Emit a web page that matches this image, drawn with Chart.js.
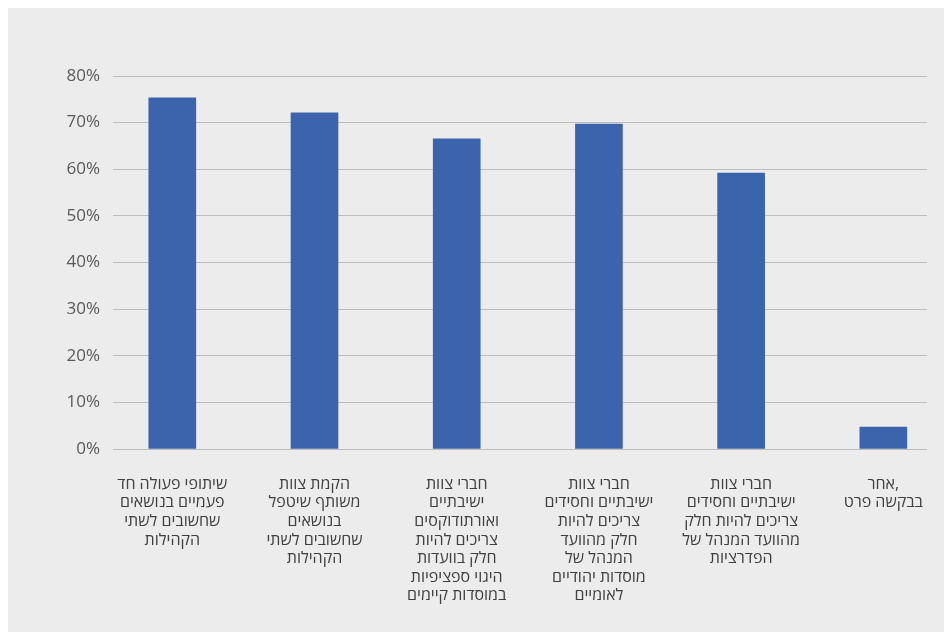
<!DOCTYPE html>
<html>
<head>
<meta charset="utf-8">
<script src="https://cdn.jsdelivr.net/npm/chart.js@4/dist/chart.umd.min.js"></script>
<style>
  html, body { margin: 0; padding: 0; background: #ffffff; }
  #panel { position: absolute; left: 8px; top: 8px; width: 936px; height: 624px; background: #ececec; }
  #wrap { position: absolute; left: 0; top: 0; width: 944px; height: 632px; }
</style>
</head>
<body>
<div id="panel"></div>
<div id="wrap"><canvas id="c" width="944" height="632"></canvas></div>
<script>
const categories = [
  ["שיתופי פעולה חד", "פעמיים בנושאים", "שחשובים לשתי", "הקהילות"],
  ["הקמת צוות", "משותף שיטפל", "בנושאים", "שחשובים לשתי", "הקהילות"],
  ["חברי צוות", "ישיבתיים", "ואורתודוקסים", "צריכים להיות", "חלק בוועדות", "היגוי ספציפיות", "במוסדות קיימים"],
  ["חברי צוות", "ישיבתיים וחסידים", "צריכים להיות", "חלק מהוועד", "המנהל של", "מוסדות יהודיים", "לאומיים"],
  ["חברי צוות", "ישיבתיים וחסידים", "צריכים להיות חלק", "מהוועד המנהל של", "הפדרציות"],
  ["אחר,", "בבקשה פרט"]
];
const values = [75.3, 72.1, 66.5, 69.7, 59.2, 4.7];
const yTicks = [0, 10, 20, 30, 40, 50, 60, 70, 80];

const points = values.map((v, i) => ({ x: i, y: v }));

new Chart(document.getElementById('c'), {
  type: 'bar',
  data: {
    datasets: [{
      data: points,
      backgroundColor: '#3C64AC',
      borderWidth: 0,
      barThickness: 47
    }]
  },
  options: {
    responsive: false,
    animation: false,
    devicePixelRatio: 1,
    layout: { padding: { top: 76, right: 17, bottom: 0, left: 0 } },
    plugins: { legend: { display: false }, tooltip: { enabled: false } },
    scales: {
      x: {
        type: 'linear',
        offset: false,
        min: -0.417,
        max: 5.307,
        grid: { display: false, drawTicks: false },
        border: { display: false },
        afterBuildTicks: (scale) => { scale.ticks = categories.map((_, i) => ({ value: i })); },
        afterFit: (scale) => {
          scale.height = 632 - 449;
          scale.paddingLeft = 0;
          scale.paddingRight = 0;
        },
        ticks: {
          autoSkip: false,
          maxRotation: 0,
          minRotation: 0,
          padding: 26,
          color: '#404040',
          font: { family: '"Open Sans", "DejaVu Sans", sans-serif', size: 16, lineHeight: 1.16 },
          callback: (v) => categories[v]
        }
      },
      y: {
        min: 0,
        max: 80,
        afterBuildTicks: (scale) => { scale.ticks = yTicks.map(v => ({ value: v })); },
        afterFit: (scale) => { scale.width = 113; },
        grid: { color: '#bdbdbd', lineWidth: 1, drawTicks: false },
        border: { display: false },
        ticks: {
          padding: 13,
          color: '#595959',
          font: { family: '"Open Sans", "DejaVu Sans", sans-serif', size: 17 },
          callback: (v) => v + '%'
        }
      }
    }
  }
});
</script>
</body>
</html>
